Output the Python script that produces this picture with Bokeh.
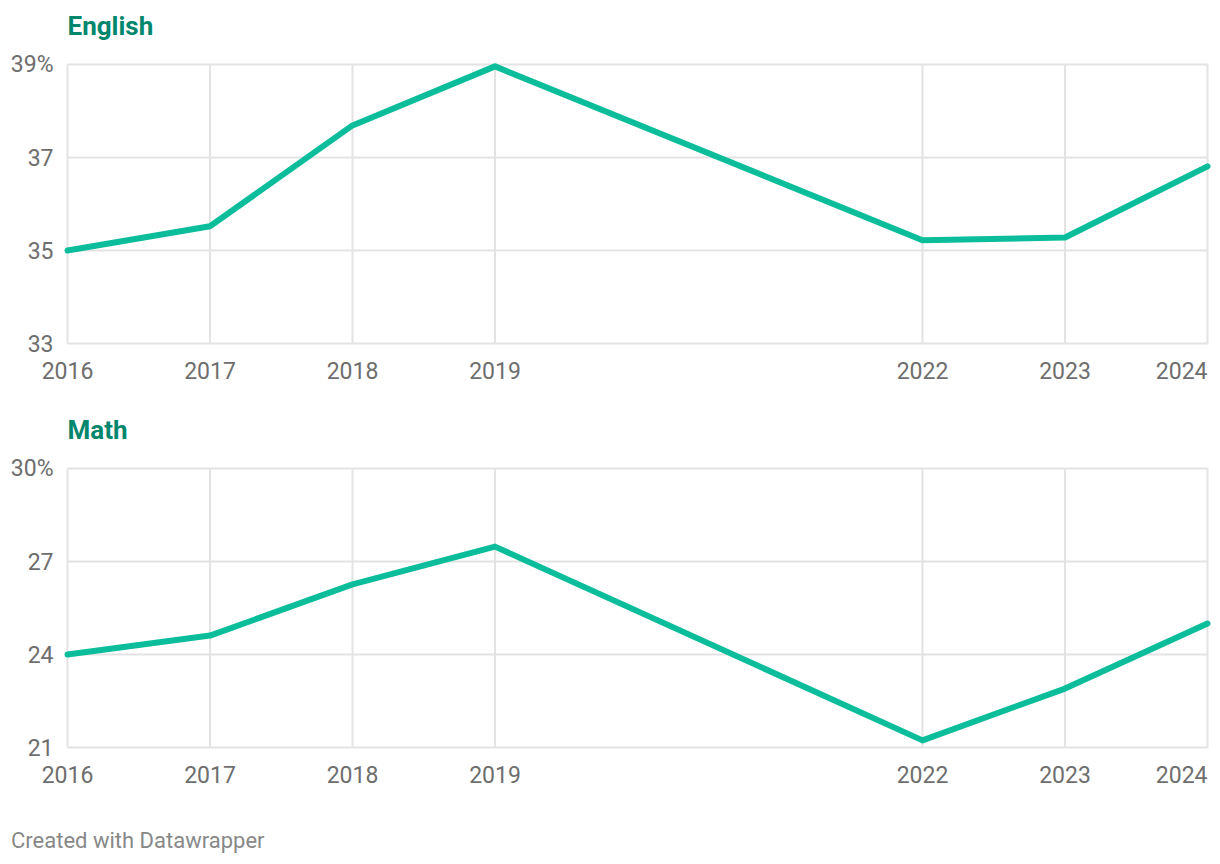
from bokeh.plotting import figure
from bokeh.models import Range1d, Div
from bokeh.core.properties import value
from bokeh.layouts import column
from bokeh.embed import file_html
from bokeh.resources import INLINE

years = [2016, 2017, 2018, 2019, 2022, 2023, 2024]
year_labels = ["2016", "2017", "2018", "2019", "2022", "2023", "2024"]
english = [35.0, 35.52, 37.69, 38.96, 35.22, 35.28, 36.81]
math = [24.0, 24.61, 26.26, 27.48, 21.23, 22.9, 25.0]
english_ticks = [33, 35, 37, 39]
english_tick_labels = ["33", "35", "37", "39%"]
math_ticks = [21, 24, 27, 30]
math_tick_labels = ["21", "24", "27", "30%"]

LINE = "#0bbd9b"
TITLE = "#00866c"
GRID = "#e3e3e3"
TICK = "#6e6e6e"
FONT = value("Roboto")

W = 1220
FIG_H = 404
LEFT_PX = 67      # x of first year
RIGHT_PX = 1207   # x of last year
TOP_PX = 64       # y of top gridline within panel
PLOT_H = 279      # px between top and bottom gridline


def panel(title, values, ticks, tick_labels):
    kx = (RIGHT_PX - LEFT_PX) / (years[-1] - years[0])
    ky = PLOT_H / (ticks[-1] - ticks[0])
    x0 = years[0] - LEFT_PX / kx
    x1 = years[-1] + (W - RIGHT_PX) / kx
    y1 = ticks[-1] + TOP_PX / ky
    y0 = ticks[0] - (FIG_H - TOP_PX - PLOT_H) / ky

    p = figure(width=W, height=FIG_H, output_backend="svg", toolbar_location=None,
               x_range=Range1d(x0, x1), y_range=Range1d(y0, y1),
               x_axis_location=None, y_axis_location=None,
               min_border_left=0, min_border_right=0, min_border_top=0, min_border_bottom=0)
    p.title.visible = False
    p.outline_line_color = None
    p.background_fill_color = "white"
    p.border_fill_color = "white"
    p.xgrid.visible = False
    p.ygrid.visible = False

    # grid lines bounded to the data area
    p.segment(x0=[years[0]] * len(ticks), x1=[years[-1]] * len(ticks), y0=ticks, y1=ticks,
              line_color=GRID, line_width=2)
    p.segment(x0=years, x1=years, y0=[ticks[0]] * len(years), y1=[ticks[-1]] * len(years),
              line_color=GRID, line_width=2)

    p.line(years, values, line_color=LINE, line_width=6, line_cap="round", line_join="round")

    # y tick labels
    p.text(x=[years[0]] * len(ticks), y=ticks, text=tick_labels, text_align="right",
           text_baseline="middle", x_offset=-14, text_font=FONT, text_font_size="23px",
           text_color=TICK)

    # x tick labels
    aligns = ["center"] * (len(years) - 1) + ["right"]
    p.text(x=years, y=[ticks[0]] * len(years), text=year_labels, text_align=aligns,
           text_baseline="middle", y_offset=27, text_font=FONT, text_font_size="23px",
           text_color=TICK)

    # panel title
    p.text(x=[years[0]], y=[ticks[-1]], text=[title], text_align="left", text_baseline="middle",
           y_offset=-39, text_font=FONT, text_font_size="26px", text_font_style="bold",
           text_color=TITLE)
    return p


p1 = panel("English", english, english_ticks, english_tick_labels)
p2 = panel("Math", math, math_ticks, math_tick_labels)
footer = Div(text="Created with Datawrapper", width=W, height=56, margin=(0, 0, 0, 0),
             styles={"font-family": "Roboto", "font-size": "22px", "color": "#888888",
                     "padding-left": "11px", "padding-top": "17px", "box-sizing": "border-box"})

layout = column(p1, p2, footer, spacing=0)
open("out.html", "w").write(file_html(layout, INLINE))
